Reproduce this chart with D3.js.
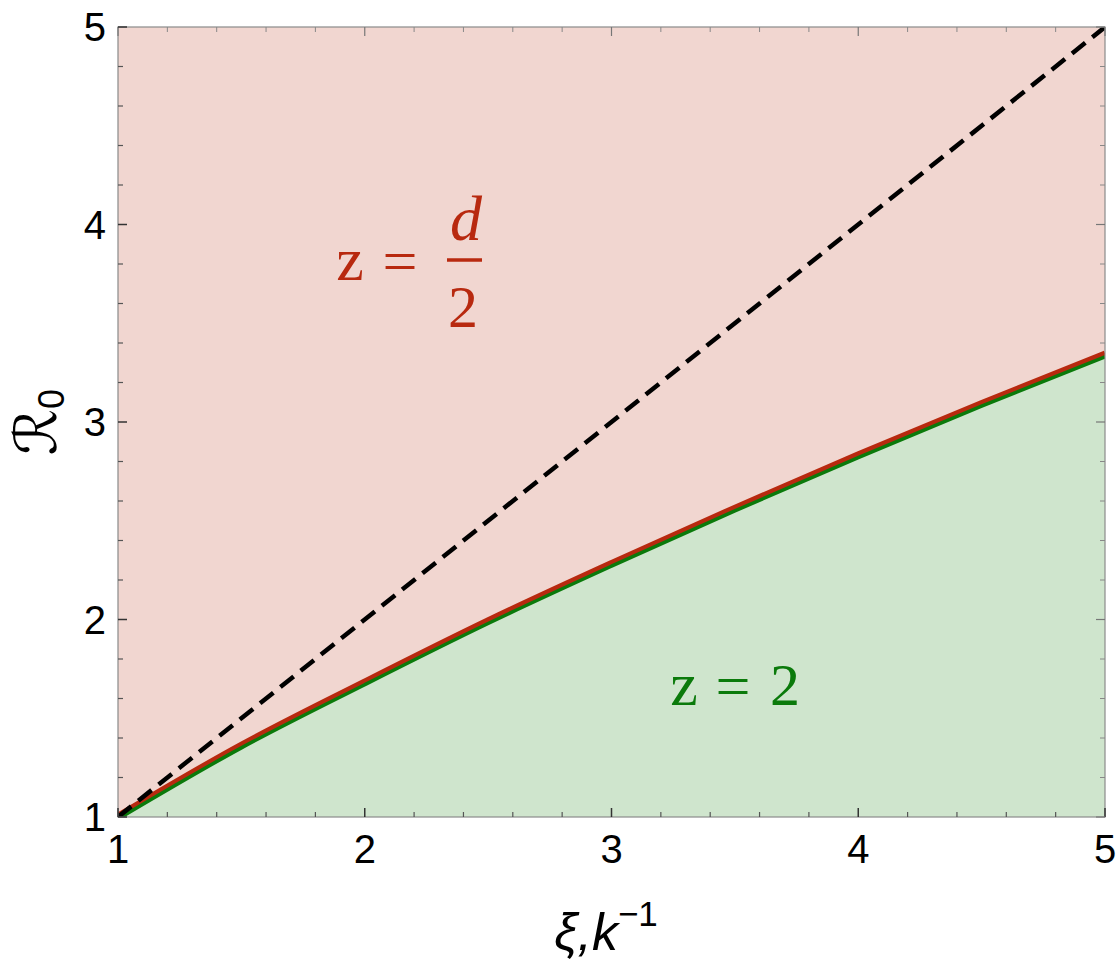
<!DOCTYPE html>
<html><head><meta charset="utf-8">
<script src="https://cdn.jsdelivr.net/npm/d3@7"></script>
<style>body{margin:0;background:#fff}svg{display:block}</style>
</head><body>
<script>
const xiValues = [1, 1.5, 2, 2.5, 3, 3.5, 4, 4.5, 5];
const boundaryR0 = [1, 1.36, 1.68, 1.99, 2.28, 2.56, 2.83, 3.09, 3.34];
const diagX = [1, 5];
const diagY = [1, 5];
const xTicks = [1, 2, 3, 4, 5];
const yTicks = [1, 2, 3, 4, 5];

const W = 1119, H = 969;
const M = {l: 118, r: 1105, t: 27, b: 817};
const svg = d3.select("body").append("svg").attr("width", W).attr("height", H);
const x = d3.scaleLinear().domain([1, 5]).range([M.l, M.r]);
const y = d3.scaleLinear().domain([1, 5]).range([M.b, M.t]);

svg.append("defs").append("clipPath").attr("id", "clip")
  .append("rect").attr("x", M.l).attr("y", M.t).attr("width", M.r - M.l).attr("height", M.b - M.t);

const pts = xiValues.map((v, i) => [v, boundaryR0[i]]);
const g = svg.append("g").attr("clip-path", "url(#clip)");
g.append("rect").attr("x", x(1)).attr("y", y(5)).attr("width", x(5) - x(1)).attr("height", y(1) - y(5)).attr("fill", "#f1d6d0");
const area = d3.area().x(d => x(d[0])).y0(y(1)).y1(d => y(d[1])).curve(d3.curveMonotoneX);
g.append("path").datum(pts).attr("d", area).attr("fill", "#cfe5cd");

const line = d3.line().x(d => x(d[0])).y(d => y(d[1])).curve(d3.curveMonotoneX);
g.append("path").datum(pts).attr("d", line).attr("fill", "none").attr("stroke", "#b8290f").attr("stroke-width", 5.5).attr("transform", "translate(0,-1.5)");
g.append("path").datum(pts).attr("d", line).attr("fill", "none").attr("stroke", "#0b7a0b").attr("stroke-width", 3.5).attr("transform", "translate(0,2)");
g.append("path").datum(diagX.map((v, i) => [v, diagY[i]])).attr("d", d3.line().x(d => x(d[0])).y(d => y(d[1])))
  .attr("fill", "none").attr("stroke", "#000").attr("stroke-width", 4.5).attr("stroke-dasharray", "17,9");

svg.append("rect").attr("x", M.l).attr("y", M.t).attr("width", M.r - M.l).attr("height", M.b - M.t)
  .attr("fill", "none").attr("stroke", "#8a8a8a").attr("stroke-width", 1.2);

const minor = d3.range(1, 5.0001, 0.2).map(v => +v.toFixed(2)).filter(v => !xTicks.includes(v));
function ticks(axisScale, side, values, len, color, w) {
  values.forEach(v => {
    const p = axisScale(v);
    let a;
    if (side === "bottom") a = [p, M.b, p, M.b - len];
    if (side === "top") a = [p, M.t, p, M.t + len];
    if (side === "left") a = [M.l, p, M.l + len, p];
    if (side === "right") a = [M.r, p, M.r - len, p];
    svg.append("line").attr("x1", a[0]).attr("y1", a[1]).attr("x2", a[2]).attr("y2", a[3]).attr("stroke", color).attr("stroke-width", w);
  });
}
ticks(x, "bottom", xTicks, 9, "#333", 1.5); ticks(x, "bottom", minor, 5, "#555", 1.2);
ticks(x, "top", xTicks, 9, "#777", 1.2); ticks(x, "top", minor, 5, "#888", 1);
ticks(y, "left", yTicks, 9, "#333", 1.5); ticks(y, "left", minor, 5, "#555", 1.2);
ticks(y, "right", yTicks, 9, "#777", 1.2); ticks(y, "right", minor, 5, "#888", 1);

const font = "'Liberation Sans', Arial, sans-serif";
svg.append("g").selectAll("text").data(xTicks).join("text")
  .attr("x", d => x(d)).attr("y", 863).attr("text-anchor", "middle")
  .attr("font-family", font).attr("font-size", 40).text(d => d);
svg.append("g").selectAll("text").data(yTicks).join("text")
  .attr("x", 106).attr("y", d => y(d) + 14).attr("text-anchor", "end")
  .attr("font-family", font).attr("font-size", 40).text(d => d);

const xt = svg.append("text").attr("x", 606).attr("y", 950).attr("text-anchor", "middle")
  .attr("font-family", font).attr("font-size", 52).attr("font-style", "italic");
xt.append("tspan").text("ξ,k");
xt.append("tspan").attr("font-size", 35).attr("font-style", "normal").attr("dy", -24).text("−1");

const yt = svg.append("text").attr("transform", "translate(56,422) rotate(-90)").attr("text-anchor", "middle")
  .attr("font-family", "'DejaVu Sans', sans-serif").attr("font-size", 58);
yt.append("tspan").text("ℛ");
yt.append("tspan").attr("font-size", 36).attr("font-family", font).attr("dy", 8).text("0");

const serif = "'Liberation Serif', 'DejaVu Serif', serif";
const red = "#b8290f", green = "#0b7a0b";
svg.append("text").attr("x", 350).attr("y", 280).attr("text-anchor", "middle").attr("font-family", serif).attr("font-size", 62).attr("fill", red).text("z");
svg.append("text").attr("x", 400).attr("y", 282).attr("text-anchor", "middle").attr("font-family", serif).attr("font-size", 62).attr("fill", red).text("=");
svg.append("text").attr("x", 466).attr("y", 240).attr("text-anchor", "middle").attr("font-family", serif).attr("font-size", 64).attr("font-style", "italic").attr("fill", red).text("d");
svg.append("line").attr("x1", 447).attr("x2", 482).attr("y1", 260).attr("y2", 260).attr("stroke", red).attr("stroke-width", 3.5);
svg.append("text").attr("x", 463).attr("y", 327).attr("text-anchor", "middle").attr("font-family", serif).attr("font-size", 60).attr("fill", red).text("2");

svg.append("text").attr("x", 684).attr("y", 705).attr("text-anchor", "middle").attr("font-family", serif).attr("font-size", 62).attr("fill", green).text("z");
svg.append("text").attr("x", 733).attr("y", 707).attr("text-anchor", "middle").attr("font-family", serif).attr("font-size", 62).attr("fill", green).text("=");
svg.append("text").attr("x", 785).attr("y", 705).attr("text-anchor", "middle").attr("font-family", serif).attr("font-size", 60).attr("fill", green).text("2");
</script>
</body></html>
